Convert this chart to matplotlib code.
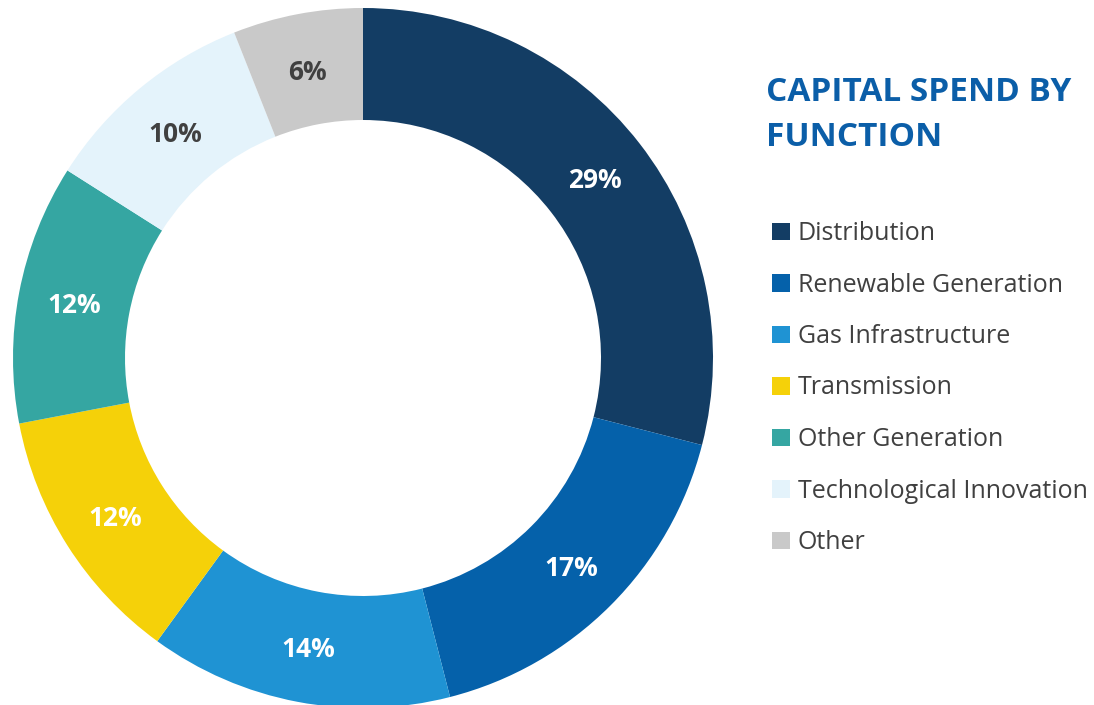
import matplotlib.pyplot as plt
from matplotlib.patches import Patch

# data
categories = ["Distribution", "Renewable Generation", "Gas Infrastructure", "Transmission",
              "Other Generation", "Technological Innovation", "Other"]
shares = [29, 17, 14, 12, 12, 10, 6]
colors = ["#133D64", "#0561AA", "#1F93D3", "#F5D109", "#35A6A2", "#E4F3FB", "#C9C9C9"]
label_colors = ["white", "white", "white", "white", "white", "#404040", "#404040"]
title = "CAPITAL SPEND BY\nFUNCTION"

plt.rcParams['font.family'] = ['Open Sans', 'DejaVu Sans']

W, H = 1094, 705
fig = plt.figure(figsize=(W / 100, H / 100), dpi=100)

# donut axes: center (363, 358) px, radius 350 px
cx, cy, r = 363, 358, 350
ax = fig.add_axes([(cx - r) / W, (H - cy - r) / H, 2 * r / W, 2 * r / H])

wedges, texts = ax.pie(shares, colors=colors, radius=1, startangle=90, counterclock=False,
                       wedgeprops=dict(width=0.32, linewidth=0),
                       labels=[f"{s}%" for s in shares], labeldistance=0.84)
ax.set_xlim(-1, 1)
ax.set_ylim(-1, 1)
ax.set_aspect('equal')
ax.axis('off')
for t, c in zip(texts, label_colors):
    t.set_color(c)
    t.set_fontsize(19)
    t.set_fontweight('bold')
    t.set_ha('center')
    t.set_va('center_baseline')

fig.text(766 / W, 1 - 76 / H, title, color="#0B5EA8", fontsize=24, fontweight='bold',
         ha='left', va='top', linespacing=1.47)

handles = [Patch(facecolor=c, edgecolor='none') for c in colors]
fig.legend(handles, categories, loc='upper left', bbox_to_anchor=(772 / W, 1 - 221 / H),
           frameon=False, fontsize=18, labelcolor="#404040",
           handlelength=0.7, handleheight=0.7, handletextpad=0.32, labelspacing=1.06,
           borderaxespad=0, borderpad=0)

fig.savefig("out.png", dpi=100)
